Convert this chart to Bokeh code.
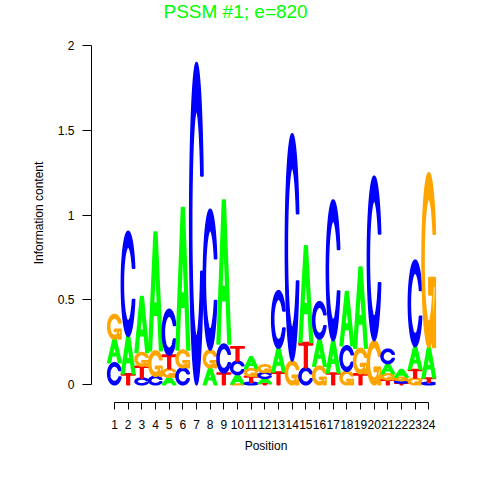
import numpy as np
from bokeh.plotting import figure
from bokeh.models import FixedTicker, Range1d, ColumnDataSource
from bokeh.embed import file_html
from bokeh.resources import INLINE

# ---- data -------------------------------------------------------------
positions = list(range(1, 25))
letters = ["A", "C", "G", "T"]
# information content (bits) contributed by each letter at each position
bits_A = [0.14, 0.22, 0.33, 0.70, 0.045, 0.84, 0.0, 0.10, 0.85, 0.055, 0.07, 0.03,
          0.14, 0.0, 0.57, 0.16, 0.19, 0.32, 0.48, 0.0, 0.06, 0.045, 0.135, 0.18]
bits_C = [0.13, 0.62, 0.04, 0.05, 0.27, 0.10, 1.90, 0.83, 0.17, 0.08, 0.015, 0.035,
          0.34, 1.34, 0.10, 0.22, 0.83, 0.15, 0.0, 0.97, 0.085, 0.015, 0.51, 0.015]
bits_G = [0.145, 0.0, 0.08, 0.15, 0.05, 0.105, 0.0, 0.105, 0.0, 0.005, 0.045, 0.045,
          0.0, 0.14, 0.0, 0.11, 0.0, 0.08, 0.15, 0.26, 0.035, 0.02, 0.04, 1.03]
bits_T = [0.0, 0.065, 0.07, 0.0, 0.08, 0.0, 0.0, 0.0, 0.07, 0.085, 0.035, 0.008,
          0.075, 0.0, 0.15, 0.0, 0.07, 0.0, 0.065, 0.0, 0.03, 0.01, 0.05, 0.025]
y_ticks = [0, 0.5, 1, 1.5, 2]
y_tick_labels = ["0", "0.5", "1", "1.5", "2"]
x_tick_labels = [str(i) for i in positions]
title_text = "PSSM #1; e=820"
x_title = "Position"
y_title = "Information content"

letter_colors = {"A": "#00FF00", "C": "#0000FF", "G": "#FFA500", "T": "#FF0000"}

# ---- letter shape templates (unit box) ---------------------------------
def shape_A():
    ox = np.array([0, 4, 6, 10, 8, 6.8, 3.2, 2, 0]) * 0.1
    oy = np.array([0, 10, 10, 0, 0, 3, 3, 0, 0]) * 0.1
    ix = np.array([3.6, 5, 6.4, 3.6]) * 0.1
    iy = np.array([4, 7.5, 4, 4]) * 0.1
    return [[(ox, oy), (ix, iy)]]

def c_ring():
    a1 = np.linspace(0.3 + np.pi / 2, np.pi, 100)
    a2 = np.linspace(np.pi, 1.5 * np.pi, 100)
    xl1 = 0.5 + 0.5 * np.sin(a1); yl1 = 0.5 + 0.5 * np.cos(a1)
    xl2 = 0.5 + 0.5 * np.sin(a2); yl2 = 0.5 + 0.5 * np.cos(a2)
    xl = np.concatenate([xl1, xl2]); yl = np.concatenate([yl1, yl2])
    x = np.concatenate([xl, xl[::-1]]); y = np.concatenate([yl, 1 - yl[::-1]])
    xi1 = 0.5 + 0.35 * np.sin(a1); yi1 = 0.5 + 0.35 * np.cos(a1)
    keep = yi1 <= yl1.max()
    xi1 = xi1[keep]; yi1 = yi1[keep].copy(); yi1[0] = yl1.max()
    xi2 = 0.5 + 0.35 * np.sin(a2); yi2 = 0.5 + 0.35 * np.cos(a2)
    xi = np.concatenate([xi1, xi2]); yi = np.concatenate([yi1, yi2])
    x1 = np.concatenate([xi, xi[::-1]]); y1 = np.concatenate([yi, 1 - yi[::-1]])
    return np.concatenate([x, x1[::-1]]), np.concatenate([y, y1[::-1]]), xl1.max()

def shape_C():
    x, y, _ = c_ring()
    return [[(x, y)]]

def shape_G():
    x, y, r1 = c_ring()
    h1 = 0.4
    xa = np.array([r1, 0.5, 0.5, r1 - 0.2, r1 - 0.2, r1, r1])
    ya = np.array([h1, h1, h1 - 0.1, h1 - 0.1, 0, 0, h1])
    return [[(x, y)], [(xa, ya)]]

def shape_T():
    x = np.array([0, 10, 10, 6, 6, 4, 4, 0]) * 0.1
    y = np.array([10, 10, 9, 9, 0, 0, 9, 9]) * 0.1
    return [[(x, y)]]

shapes = {"A": shape_A(), "C": shape_C(), "G": shape_G(), "T": shape_T()}

# ---- build glyph data ---------------------------------------------------
bits = {"A": bits_A, "C": bits_C, "G": bits_G, "T": bits_T}
xs, ys, cols = [], [], []
for i, pos in enumerate(positions):
    col = sorted(((bits[l][i], l) for l in letters), key=lambda t: t[0])
    base = 0.0
    for h, l in col:
        if h <= 0:
            continue
        polys_x, polys_y = [], []
        for poly in shapes[l]:
            rx, ry = [], []
            for (sx, sy) in poly:
                rx.append(list(pos - 0.5 + sx))
                ry.append(list(base + sy * h))
            polys_x.append(rx); polys_y.append(ry)
        xs.append(polys_x); ys.append(polys_y); cols.append(letter_colors[l])
        base += h

src = ColumnDataSource(dict(xs=xs, ys=ys, color=cols))

# ---- figure -------------------------------------------------------------
TOP = 23
FW, FH = 349, 402 - TOP
p = figure(frame_width=FW, frame_height=FH,
           min_border_left=91, min_border_top=TOP, min_border_right=32, min_border_bottom=70,
           x_range=Range1d(-0.683, 24.853),
           y_range=Range1d(-0.1043, (384.3 - TOP) / 169.65),
           output_backend="svg", toolbar_location=None)

p.multi_polygons(xs="xs", ys="ys", fill_color="color", line_color="color",
                 line_width=1.5, source=src)

p.title.text = title_text
p.title.text_color = "#00FF00"
p.title.text_font = "Liberation Sans"
p.title.text_font_style = "normal"
p.title.text_font_size = "19px"
p.title.align = "left"
p.title.offset = 72
p.title.vertical_align = "top"
p.title.standoff = 0

p.xgrid.visible = False
p.ygrid.visible = False
p.outline_line_color = None

for ax in (p.xaxis[0], p.yaxis[0]):
    ax.axis_line_color = "black"
    ax.major_tick_line_color = "black"
    ax.major_tick_in = 0
    ax.minor_tick_in = 0
    ax.minor_tick_out = 0
    ax.major_label_text_font = "Liberation Sans"
    ax.major_label_text_font_size = "12px"
    ax.major_label_text_color = "black"
    ax.axis_label_text_font = "Liberation Sans"
    ax.axis_label_text_font_size = "12px"
    ax.axis_label_text_font_style = "normal"
    ax.axis_label_text_color = "black"

xa = p.xaxis[0]
xa.ticker = FixedTicker(ticks=positions)
xa.major_label_overrides = dict(zip(positions, x_tick_labels))
xa.bounds = (positions[0], positions[-1])
xa.axis_label = x_title
xa.major_tick_out = 7
xa.major_label_standoff = 10
xa.axis_label_standoff = 7

ya = p.yaxis[0]
ya.ticker = FixedTicker(ticks=y_ticks)
ya.major_label_overrides = dict(zip(y_ticks, y_tick_labels))
ya.bounds = (y_ticks[0], y_ticks[-1])
ya.axis_label = y_title
ya.major_tick_out = 9
ya.major_label_standoff = 8
ya.axis_label_standoff = 9

open("out.html", "w").write(file_html(p, INLINE))
